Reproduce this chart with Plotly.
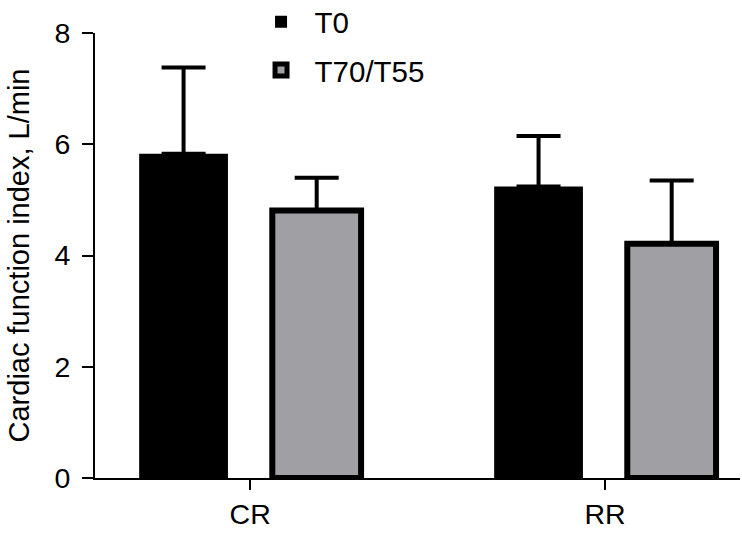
import plotly.graph_objects as go

categories = ["CR", "RR"]
t0_values = [5.83, 5.24]
t0_err = [1.55, 0.91]
t70_values = [4.81, 4.21]
t70_err = [0.59, 1.14]
series_names = ["T0", "T70/T55"]
y_ticks = [0, 2, 4, 6, 8]

FONT = "Liberation Sans, Arial, Helvetica, sans-serif"

fig = go.Figure()
fig.add_trace(go.Bar(
    x=categories, y=t0_values, name=series_names[0], legendgroup="a",
    marker=dict(color="black", line=dict(color="black", width=0)),
    error_y=dict(type="data", array=t0_err, arrayminus=[0, 0], symmetric=False,
                 thickness=4, width=22, color="black"),
))
fig.add_trace(go.Bar(
    x=categories, y=t70_values, name=series_names[1], legendgroup="b",
    marker=dict(color="#a0a0a4", line=dict(color="black", width=6)),
    error_y=dict(type="data", array=t70_err, arrayminus=[0, 0], symmetric=False,
                 thickness=4, width=22, color="black"),
))

fig.update_layout(
    width=742, height=539,
    margin=dict(l=95, r=2, t=33, b=61, autoexpand=False),
    paper_bgcolor="white", plot_bgcolor="white",
    barmode="group", bargap=0.25, bargroupgap=0.333,
    font=dict(family=FONT, size=28.5, color="black"),
    legend=dict(x=0.2365, y=1.083, xanchor="left", yanchor="top",
                bgcolor="rgba(0,0,0,0)", font=dict(size=29.5),
                tracegroupgap=7, itemwidth=57),
    showlegend=True,
)
fig.update_xaxes(
    range=[-0.437, 1.38], showline=True, linecolor="black", linewidth=2,
    ticks="outside", ticklen=10, tickwidth=2, tickcolor="black",
    showgrid=False, zeroline=False, tickfont=dict(size=28.5), automargin=False,
)
fig.update_yaxes(
    range=[0, 8], tickvals=y_ticks, showline=True, linecolor="black", linewidth=2,
    ticks="outside", ticklen=11, tickwidth=2, tickcolor="black",
    showgrid=False, zeroline=False, tickfont=dict(size=28.5), automargin=True,
    ticklabelstandoff=6,
    title=dict(text="Cardiac function index, L/min", font=dict(size=29), standoff=16),
)

fig.write_html("out.html", config={"displayModeBar": False},
               post_script="document.body.style.margin='0';")
